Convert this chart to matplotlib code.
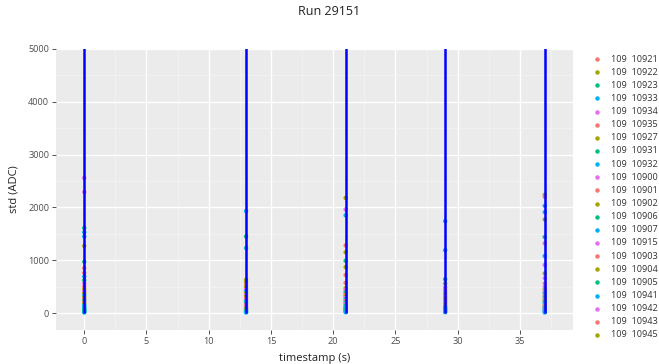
import numpy as np
import matplotlib
matplotlib.use("Agg")
import matplotlib.pyplot as plt
from matplotlib.lines import Line2D

plt.rcParams['font.family'] = ['Open Sans', 'DejaVu Sans']

# channel labels (legend order)
channels = ["109  10921", "109  10922", "109  10923", "109  10933", "109  10934",
            "109  10935", "109  10927", "109  10931", "109  10932", "109  10900",
            "109  10901", "109  10902", "109  10906", "109  10907", "109  10915",
            "109  10903", "109  10904", "109  10905", "109  10941", "109  10942",
            "109  10943", "109  10945"]
palette = ["#F8766D", "#A3A500", "#00BF7D", "#00B0F6", "#E76BF3"]

timestamps = [0, 13, 21, 29, 37]
line_top = [6000, 6000, 6000, 6000, 6000]

# std values per timestamp and the channel index of each point
std_t0 = [2560, 2290, 1610, 1530, 1450, 1270, 970, 850, 760, 690, 620, 560, 500,
          450, 410, 370, 330, 300, 270, 240, 210, 180, 150, 120, 100, 80, 60, 45, 30, 20, 10]
ch_t0 = [4, 9, 2, 3, 8, 1, 7, 0, 5, 13, 12, 19, 10, 6, 14, 16, 18, 11, 15, 17, 20, 21,
         3, 8, 13, 2, 18, 7, 12, 17, 3]

std_t13 = [1930, 1450, 1230, 630, 590, 540, 490, 450, 410, 380, 340, 310, 280, 250,
           220, 190, 160, 130, 110, 90, 70, 50, 35, 20, 10]
ch_t13 = [3, 2, 8, 1, 6, 0, 11, 4, 13, 16, 9, 21, 5, 14, 12, 18, 10, 19, 15, 17, 20, 7,
          2, 3, 8]

std_t21 = [2180, 1960, 1850, 1280, 1150, 990, 870, 720, 570, 470, 430, 390, 350, 320,
           290, 260, 230, 200, 170, 140, 110, 90, 70, 50, 30, 15]
ch_t21 = [1, 4, 3, 0, 6, 2, 11, 5, 10, 16, 14, 12, 20, 21, 9, 13, 15, 17, 19, 7, 18,
          8, 2, 12, 3, 8]

std_t29 = [1740, 1190, 640, 560, 490, 440, 400, 360, 320, 290, 260, 230, 200, 170,
           140, 110, 90, 70, 50, 30, 15]
ch_t29 = [3, 8, 2, 1, 4, 0, 9, 6, 14, 5, 11, 10, 19, 16, 20, 12, 13, 17, 3, 18, 8]

std_t37 = [2240, 2200, 2030, 1910, 1770, 1440, 1320, 1080, 910, 750, 660, 560, 500,
           450, 410, 370, 330, 300, 270, 240, 210, 180, 150, 120, 100, 80, 60, 40, 25, 10]
ch_t37 = [1, 0, 3, 8, 6, 2, 5, 13, 4, 11, 9, 10, 14, 16, 19, 12, 15, 17, 20, 21, 7, 18,
          0, 1, 3, 2, 4, 8, 13, 3]

all_std = [std_t0, std_t13, std_t21, std_t29, std_t37]
all_ch = [ch_t0, ch_t13, ch_t21, ch_t29, ch_t37]

fig = plt.figure(figsize=(6.59, 3.64), dpi=100)
ax = fig.add_axes([0.085, 0.0934, 0.7845, 0.772])
ax.set_facecolor("#EBEBEB")

for t, vals, chs in zip(timestamps, all_std, all_ch):
    cols = [palette[c % 5] for c in chs]
    ax.scatter([t] * len(vals), vals, s=10, c=cols, linewidths=0, zorder=3)

ax.vlines(timestamps, 0, line_top, colors="#0000FF", linewidth=1.8, zorder=4)

ax.set_xlim(-2.27, 39.27)
ax.set_ylim(-322, 5000)
ax.set_xticks([0, 5, 10, 15, 20, 25, 30, 35])
ax.set_yticks([0, 1000, 2000, 3000, 4000, 5000])
ax.set_xticks(np.arange(2.5, 39, 5), minor=True)
ax.set_yticks(np.arange(500, 5000, 1000), minor=True)
ax.grid(which="major", color="white", linewidth=1.0)
ax.grid(which="minor", color="#F4F4F4", linewidth=0.5)
ax.set_axisbelow(True)
for s in ax.spines.values():
    s.set_visible(False)
ax.tick_params(which="major", length=3, width=0.6, color="#333333",
               labelsize=6.6, labelcolor="#4D4D4D", pad=2)
ax.tick_params(which="minor", length=0)

ax.set_xlabel("timestamp (s)", fontsize=8, color="#222222", labelpad=5)
ax.set_ylabel("std (ADC)", fontsize=8, color="#222222", labelpad=6)
fig.suptitle("Run 29151", fontsize=9, x=0.5, y=0.985, color="#222222")

# legend drawn at fixed figure positions
W, H = 659, 364
for i, lab in enumerate(channels):
    ypx = 59 + i * 13.14
    yf = 1 - ypx / H
    fig.add_artist(Line2D([597 / W], [yf], marker="o", markersize=3.2,
                          markeredgewidth=0, color=palette[i % 5],
                          transform=fig.transFigure))
    fig.text(611 / W, yf, lab, fontsize=6.6, color="#333333", va="center", ha="left")

fig.savefig("out.png", dpi=100)
